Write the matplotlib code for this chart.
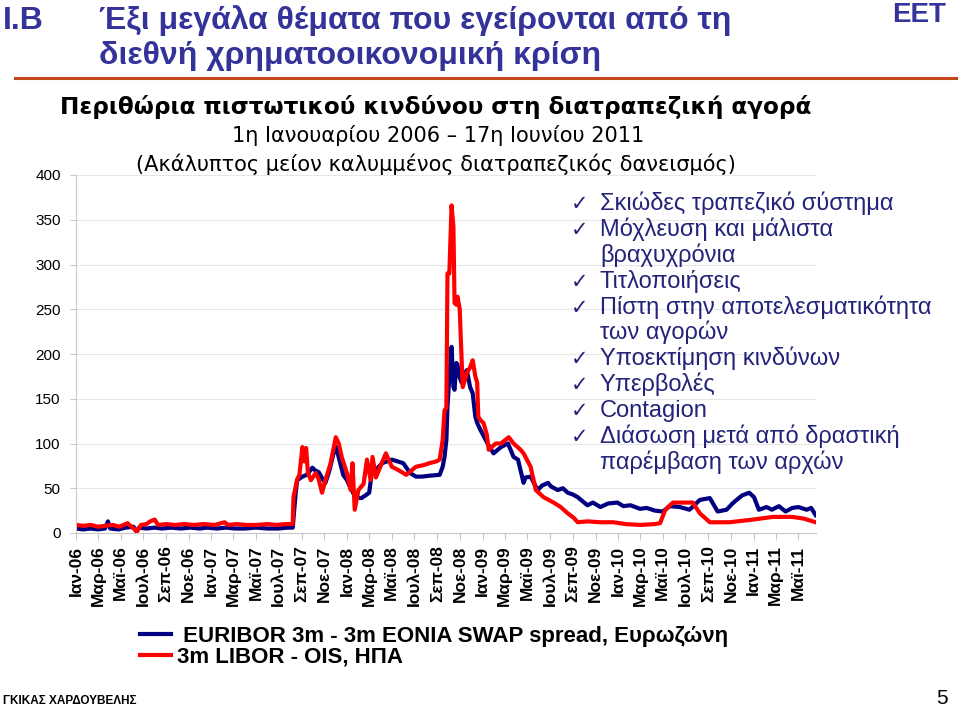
import numpy as np
import pandas as pd
import matplotlib
matplotlib.use("Agg")
import matplotlib.pyplot as plt

# ---- data (basis points) ----
blue_dates = ["2006-01-02", "2006-01-20", "2006-02-10", "2006-03-01", "2006-03-20", "2006-03-28",
              "2006-04-03", "2006-04-25", "2006-05-15", "2006-06-05", "2006-06-12", "2006-06-20",
              "2006-07-10", "2006-08-01", "2006-08-20", "2006-09-15", "2006-10-10", "2006-11-05",
              "2006-12-01", "2006-12-20", "2007-01-15", "2007-02-10", "2007-03-05", "2007-04-01",
              "2007-05-01", "2007-06-01", "2007-07-01", "2007-07-25", "2007-08-08",
              "2007-08-16", "2007-08-20", "2007-09-03", "2007-09-15", "2007-09-30", "2007-10-07",
              "2007-10-17", "2007-10-28", "2007-11-04", "2007-11-15", "2007-11-26", "2007-12-03",
              "2007-12-14", "2007-12-22", "2008-01-01", "2008-01-11", "2008-01-24", "2008-02-09",
              "2008-02-20", "2008-03-01", "2008-03-08", "2008-03-22", "2008-04-05", "2008-05-01",
              "2008-06-01", "2008-06-19", "2008-07-05", "2008-07-21", "2008-08-10", "2008-09-07",
              "2008-09-15", "2008-09-20", "2008-09-25", "2008-09-28", "2008-10-03", "2008-10-09",
              "2008-10-14", "2008-10-17", "2008-10-22", "2008-10-25", "2008-10-31", "2008-11-05",
              "2008-11-14", "2008-11-19", "2008-11-28", "2008-12-05", "2008-12-12", "2008-12-17",
              "2008-12-26", "2009-01-14", "2009-01-30", "2009-02-19", "2009-03-10", "2009-03-25",
              "2009-04-06", "2009-04-13", "2009-04-21", "2009-04-26", "2009-05-10", "2009-05-29",
              "2009-06-10", "2009-06-26", "2009-07-04", "2009-07-22", "2009-08-05", "2009-08-18",
              "2009-09-01", "2009-09-14", "2009-10-10", "2009-10-25", "2009-11-14", "2009-12-05",
              "2009-12-30", "2010-01-15", "2010-02-03", "2010-03-01", "2010-03-19", "2010-04-10",
              "2010-05-01", "2010-05-20", "2010-06-16", "2010-07-12", "2010-07-25", "2010-08-09",
              "2010-09-05", "2010-09-26", "2010-10-20", "2010-11-05", "2010-11-16", "2010-12-01",
              "2010-12-20", "2011-01-02", "2011-01-15", "2011-02-05", "2011-02-19", "2011-03-10",
              "2011-03-28", "2011-04-15", "2011-05-02", "2011-05-24", "2011-06-05", "2011-06-17"]
blue_vals = [5, 4, 5, 4, 5, 13,
             5, 4, 6, 7, 2, 6,
             5, 6, 5, 6, 5, 6,
             5, 6, 5, 6, 5, 5,
             6, 5, 5, 6, 6,
             45, 59, 63, 65, 73, 70,
             68, 60, 56, 70, 89, 96,
             78, 65, 59, 50, 40, 39,
             42, 45, 67, 72, 78, 82,
             78, 67, 63, 63, 64, 65,
             74, 85, 104, 141, 175, 208,
             163, 160, 190, 188, 174, 168,
             178, 182, 163, 156, 130, 123,
             115, 100, 89, 96, 100, 85,
             82, 70, 56, 62, 63, 48,
             53, 56, 52, 48, 50, 45,
             43, 40, 31, 34, 29, 33,
             34, 30, 31, 27, 28, 25,
             24, 30, 29, 26, 31, 37,
             39, 24, 26, 33, 37, 42,
             45, 40, 26, 29, 26, 30,
             24, 28, 29, 26, 28, 20]

red_dates = ["2006-01-02", "2006-01-20", "2006-02-10", "2006-03-01", "2006-03-20", "2006-04-10",
             "2006-04-28", "2006-05-20", "2006-05-28", "2006-06-08", "2006-06-15", "2006-06-25",
             "2006-07-10", "2006-07-20", "2006-08-01", "2006-08-10", "2006-09-01", "2006-09-25",
             "2006-10-20", "2006-11-15", "2006-12-10", "2007-01-10", "2007-02-05", "2007-02-15",
             "2007-03-10", "2007-04-05", "2007-05-01", "2007-06-01", "2007-06-25", "2007-07-20",
             "2007-08-08", "2007-08-10", "2007-08-20", "2007-08-26", "2007-09-03", "2007-09-08",
             "2007-09-13", "2007-09-18", "2007-09-26", "2007-10-09", "2007-10-17", "2007-10-26",
             "2007-11-04", "2007-11-18", "2007-12-02", "2007-12-10", "2007-12-18", "2008-01-01",
             "2008-01-11", "2008-01-16", "2008-01-22", "2008-02-01", "2008-02-15", "2008-02-24",
             "2008-03-05", "2008-03-10", "2008-03-19", "2008-04-15", "2008-05-01", "2008-05-20",
             "2008-06-09", "2008-07-05", "2008-07-27", "2008-08-10", "2008-08-29", "2008-09-07",
             "2008-09-15", "2008-09-20", "2008-09-25", "2008-09-28", "2008-10-03", "2008-10-09",
             "2008-10-14", "2008-10-17", "2008-10-22", "2008-10-25", "2008-10-31", "2008-11-03",
             "2008-11-08", "2008-11-14", "2008-11-19", "2008-11-28", "2008-12-05", "2008-12-12",
             "2008-12-17", "2008-12-20", "2008-12-26", "2009-01-03", "2009-01-12", "2009-01-17",
             "2009-02-05", "2009-02-19", "2009-03-12", "2009-03-25", "2009-04-13", "2009-04-21",
             "2009-05-10", "2009-05-24", "2009-06-14", "2009-07-11", "2009-07-30", "2009-08-18",
             "2009-09-03", "2009-09-14", "2009-10-10", "2009-11-14", "2009-12-19", "2010-01-21",
             "2010-03-02", "2010-04-10", "2010-04-24", "2010-05-07", "2010-05-15", "2010-05-29",
             "2010-06-30", "2010-07-21", "2010-08-09", "2010-09-05", "2010-10-28", "2010-12-30",
             "2011-02-22", "2011-04-15", "2011-05-17", "2011-06-17"]
red_vals = [9, 8, 9, 7, 8, 9,
            7, 11, 8, 4, 2, 9,
            10, 13, 15, 9, 10, 9,
            10, 9, 10, 9, 12, 9,
            10, 9, 9, 10, 9, 10,
            10, 40, 60, 65, 96, 80,
            95, 67, 59, 67, 60, 45,
            59, 78, 107, 100, 85, 67,
            48, 78, 26, 48, 55, 82,
            59, 85, 62, 89, 74, 70,
            65, 74, 76, 78, 80, 82,
            104, 137, 140, 290, 290, 366,
            342, 257, 255, 264, 250, 216,
            163, 171, 179, 185, 193, 175,
            168, 130, 126, 123, 110, 93,
            100, 100, 107, 100, 93, 89,
            74, 48, 40, 34, 29, 22,
            17, 12, 13, 12, 12, 10,
            9, 10, 11, 25, 29, 34,
            34, 34, 22, 12, 12, 15,
            18, 18, 16, 12]

y_ticks = [0, 50, 100, 150, 200, 250, 300, 350, 400]
month_names = {1: "Ιαν", 3: "Μαρ", 5: "Μαϊ", 7: "Ιουλ", 9: "Σεπ", 11: "Νοε"}

checklist = [
    ["Σκιώδες τραπεζικό σύστημα"],
    ["Μόχλευση και μάλιστα", "βραχυχρόνια"],
    ["Τιτλοποιήσεις"],
    ["Πίστη στην αποτελεσματικότητα", "των αγορών"],
    ["Υποεκτίμηση κινδύνων"],
    ["Υπερβολές"],
    ["Contagion"],
    ["Διάσωση μετά από δραστική", "παρέμβαση των αρχών"],
]

plt.rcParams["font.family"] = ["Liberation Sans", "DejaVu Sans"]
wide = ["DejaVu Sans"]

W, H = 959, 710
fig = plt.figure(figsize=(W / 100, H / 100), dpi=100)
fx = lambda px: px / W
fy = lambda py: 1 - py / H

ax = fig.add_axes([fx(76), fy(533), fx(816) - fx(76), fy(175) - fy(533)])

bd = pd.to_datetime(blue_dates)
rd = pd.to_datetime(red_dates)
l1, = ax.plot(bd, blue_vals, color="#000080", lw=3.0, solid_joinstyle="round")
l2, = ax.plot(rd, red_vals, color="#FF0000", lw=3.0, solid_joinstyle="round")

ax.set_ylim(0, 400)
ax.set_xlim(pd.Timestamp("2006-01-01"), pd.Timestamp("2011-06-18"))
ax.set_yticks(y_ticks)
ax.yaxis.grid(True, color="#E6E6E6", lw=0.8)
ax.set_axisbelow(True)
for s in ["top", "right"]:
    ax.spines[s].set_visible(False)
for s in ["left", "bottom"]:
    ax.spines[s].set_color("#C8C8C8")

ticks = pd.date_range("2006-01-01", "2011-05-01", freq="2MS")
ax.set_xticks(ticks)
ax.set_xticklabels([f"{month_names[t.month]}-{t.year % 100:02d}" for t in ticks],
                   rotation=90, fontsize=12.5, fontweight="bold", va="top", ha="center")
ax.tick_params(axis="x", length=5, color="#C8C8C8", pad=4)
ax.tick_params(axis="y", length=4, color="#C8C8C8", labelsize=11, pad=7)

# ---- checklist ----
navy = "#23237A"
y = 210
for item in checklist:
    for i, line in enumerate(item):
        if i == 0:
            fig.text(fx(571), fy(y), "✓", fontsize=15, color=navy, va="baseline",
                     family=["DejaVu Sans"])
        fig.text(fx(600), fy(y), line, fontsize=17, color=navy, va="baseline")
        y += 25.9

# ---- titles ----
blue = "#33339A"
fig.text(fx(3), fy(29), "I.B", fontsize=23, color=blue, fontweight="bold", va="baseline")
fig.text(fx(99), fy(29), "Έξι μεγάλα θέματα που εγείρονται από τη", fontsize=23,
         color=blue, fontweight="bold", va="baseline")
fig.text(fx(99), fy(64), "διεθνή χρηματοοικονομική κρίση", fontsize=23,
         color=blue, fontweight="bold", va="baseline")
fig.text(fx(946), fy(22), "ΕΕΤ", fontsize=20, color=blue, va="baseline",
         ha="right", fontweight="bold")
fig.add_artist(plt.Line2D([fx(15), fx(956)], [fy(78), fy(78)], color="#C4471C", lw=2.2))

fig.text(fx(436), fy(114), "Περιθώρια πιστωτικού κινδύνου στη διατραπεζική αγορά",
         fontsize=16.7, fontweight="bold", family=wide, ha="center", va="baseline")
fig.text(fx(438), fy(142), "1η Ιανουαρίου 2006 – 17η Ιουνίου 2011",
         fontsize=15, family=wide, ha="center", va="baseline")
fig.text(fx(436), fy(171), "(Ακάλυπτος μείον καλυμμένος διατραπεζικός δανεισμός)",
         fontsize=15, family=wide, ha="center", va="baseline")

# ---- legend ----
fig.legend([l1, l2], [" EURIBOR 3m - 3m EONIA SWAP spread, Ευρωζώνη", "3m LIBOR - OIS, ΗΠΑ"],
           loc="upper left", bbox_to_anchor=(fx(131), fy(617)), frameon=False,
           prop={"size": 16, "weight": "bold"}, handlelength=1.4, handletextpad=0.25,
           labelspacing=0.0, borderaxespad=0)

# ---- footer ----
fig.text(fx(3), fy(704), "ΓΚΙΚΑΣ ΧΑΡΔΟΥΒΕΛΗΣ", fontsize=8.5, fontweight="bold",
         va="baseline")
fig.text(fx(948), fy(704), "5", fontsize=15, va="baseline", ha="right")

fig.savefig("out.png", dpi=100)
